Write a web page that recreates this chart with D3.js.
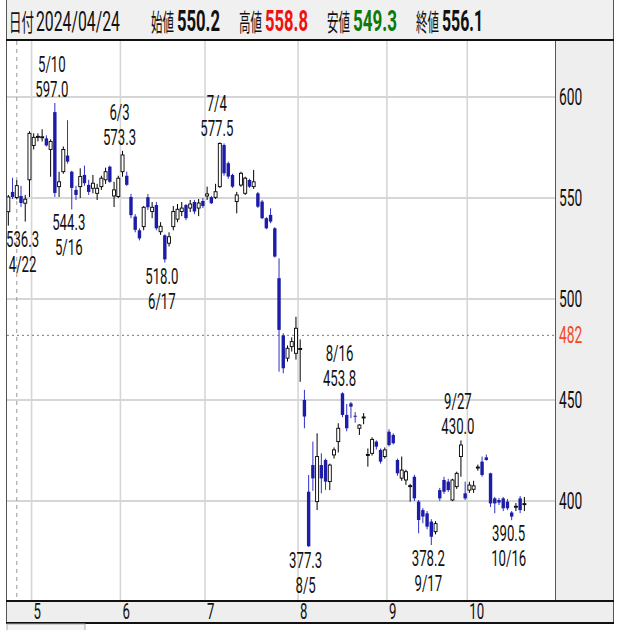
<!DOCTYPE html>
<html><head><meta charset="utf-8">
<script src="https://cdn.jsdelivr.net/npm/d3@7"></script>
<style>
html,body{margin:0;padding:0;background:#fff;}
svg{display:block;}
text{font-family:Roboto,"Liberation Sans",sans-serif;}
</style></head>
<body><svg id="c" width="630" height="630"></svg>
<script>
// ---------- data ----------
const year = "2024";
const dates = ["4/22","4/23","4/24","4/25","4/26","4/30",
"5/1","5/2","5/7","5/8","5/9","5/10","5/13","5/14","5/15","5/16","5/17","5/20","5/21","5/22","5/23","5/24","5/27","5/28","5/29","5/30","5/31",
"6/3","6/4","6/5","6/6","6/7","6/10","6/11","6/12","6/13","6/14","6/17","6/18","6/19","6/20","6/21","6/24","6/25","6/26","6/27","6/28",
"7/1","7/2","7/3","7/4","7/5","7/8","7/9","7/10","7/11","7/12","7/16","7/17","7/18","7/19","7/22","7/23","7/24","7/25","7/26","7/29","7/30","7/31",
"8/1","8/2","8/5","8/6","8/7","8/8","8/9","8/13","8/14","8/15","8/16","8/19","8/20","8/21","8/22","8/23","8/26","8/27","8/28","8/29","8/30",
"9/2","9/3","9/4","9/5","9/6","9/9","9/10","9/11","9/12","9/13","9/17","9/18","9/19","9/20","9/24","9/25","9/26","9/27","9/30",
"10/1","10/2","10/3","10/4","10/7","10/8","10/9","10/10","10/11","10/15","10/16","10/17","10/18","10/21"];
const open = [543.2,553,550.2,551,547.4,559,
576,580,580,579.5,574,592.5,555.6,563,571,563,554,555.6,561.4,556.5,554.8,552.3,555.6,559,565.5,551,550.7,
563,561,550.5,540.8,534,535.8,550.4,543.3,546.5,533.3,531.5,527.6,535.8,539.5,543.3,546.5,545,548,545,548.5,
551,550.4,550.3,555.6,576.2,567.2,561.4,548.2,556.4,552.3,558.9,555.6,552.3,548.2,540,541.6,535,510.3,482,470.7,476.4,473.1,
475,450,404.6,417.8,399.7,417.8,420.3,409.6,422.8,429.4,453.3,442.6,448.3,442.2,436,441.2,422.6,423.6,429.4,425.3,422,
434.3,432.7,420.3,411.3,410.4,407.2,412,399.7,395.5,393.9,389.8,384.8,405.4,410.4,409.6,400.5,407.1,422,403.8,
405.4,405.8,416.5,419.5,421.6,413.7,401.3,400.5,401.3,399.7,394.3,397,401.3,398.3];
const high = [551.5,560,558.8,556,551.5,583,
582,582,584,581,579,597.0,563,575.5,588.5,563.5,556,564.7,566,559,561.4,557,561,565,566,558,561,
573.3,563,552,542,535,546,552,548,548,538,532,533,546,547,548,547,549,549,549.5,550,
555.6,551,557,577.5,577,568,562,553,563,560.5,559.5,563.9,553,549,540.5,544.9,535.5,520.1,483,477,481,491.2,
480,455,412.9,429.4,433.5,423.6,421,418.5,426.5,438.5,453.8,448,449,444,438,443.5,426,431.5,430,426,426.5,
435.5,433.5,421,422,415.5,408.5,413,400.5,396.5,395,391,390,406.5,412,411,411,414.5,430.0,409.6,
409.5,410,418,422,423,414,402,401.5,402,401,395,399,402.5,402];
const low = [536.3,549.5,549.3,545.5,538.3,550.5,
574,578,578,575.5,560.5,550.5,550.5,562,567,544.3,549,550,556,551.5,552.3,549,554,557,557.5,545.5,550,
560.5,556,540,533,529,534,544,540,534,531.7,518.0,526,534,538,541,539,543,542,541,545,
549,547,549.5,555,561,559.5,555,542.4,555.5,551.5,555,554.5,545,539.5,534.5,537.5,520.5,464,463.2,469,474,470,
459,436,377.3,405,395.5,403.8,405.5,405.4,421,424,441.5,434.5,441,438.8,432.7,438,417,422.5,425.5,418.5,421,
427,428,412.5,410,408,399.7,400,384,389,386,378.2,383.5,400,403.5,404.5,400,406,412,400.5,
404,404,415,412,420,397,393.9,398,395,395.5,390.5,395,394,395];
const close = [550.5,550.5,556.1,547.5,549.4,582,
580,580.5,580.3,576,578,552.5,558,574,568,555,551.5,560.6,557.3,553,557.3,554.8,559.8,563,558,554,559.8,
571.3,556.5,541.5,534.2,530,545.4,545.4,545.4,535,536,519.6,530.8,543.3,544.4,545,540,547,543.3,547.5,546,
552,547.4,553.1,577,562.2,560.6,555.6,551.5,562.2,559.8,555.6,558,545.7,540,535,538.3,521,484.7,465.7,475.6,478.9,485.5,
475.5,441.8,377.6,411.2,422,411.2,409.6,417.8,425.3,436,442.6,436,446.7,441.8,437.6,441.6,423,430.5,426.9,419.5,425.3,
427.7,428.6,413.7,415.3,414.5,407.6,401.3,390.6,392.3,387.3,382.3,388.8,401.3,404.6,405.4,410.4,413.7,427.7,401.3,
407.9,407.5,416.8,412.9,420.3,398.8,398.8,399.2,396.4,396.4,392.3,397.4,395.5,398.7];
const yTicks = [400, 450, 500, 550, 600];
const monthStarts = ["5/1","6/3","7/1","8/1","9/2","10/1"];
const monthLabels = ["5","6","7","8","9","10"];
const highMarks = ["5/10","6/3","7/4","8/16","9/27"];
const lowMarks = ["4/22","5/16","6/17","8/5","9/17","10/16"];
const refPrice = 482;
const cursorDate = "4/24";
const headerNames = ["日付","始値","高値","安値","終値"];

// ---------- layout ----------
const L = 7, R = 555, T = 41, B = 601, PANEL_R = 613;
const svg = d3.select("#c");
const x = d3.scaleBand().domain(dates).range([6.2, 6.2 + dates.length * 4.23]).padding(0);
const y = d3.scaleLinear().domain([350.5, 627.7]).range([B, T]);
const cx = d => x(d) + x.bandwidth() / 2;

// backgrounds
svg.append("rect").attr("x", 0).attr("y", 0).attr("width", 630).attr("height", 630).attr("fill", "#fff");
svg.append("rect").attr("x", 6).attr("y", 0).attr("width", PANEL_R - 6).attr("height", T).attr("fill", "#f0f0f0");
svg.append("rect").attr("x", R).attr("y", T).attr("width", PANEL_R - R).attr("height", B - T).attr("fill", "#eeeeee");
svg.append("rect").attr("x", L).attr("y", B).attr("width", PANEL_R - L).attr("height", 22).attr("fill", "#eeeeee");

// grid
const grid = svg.append("g");
grid.selectAll("line.h").data(yTicks).join("line")
  .attr("x1", L).attr("x2", R).attr("y1", d => y(d)).attr("y2", d => y(d))
  .attr("stroke", "#d6d6d6").attr("stroke-width", 2);
grid.selectAll("line.v").data(monthStarts).join("line")
  .attr("x1", d => x(d)).attr("x2", d => x(d)).attr("y1", T).attr("y2", B)
  .attr("stroke", "#d6d6d6").attr("stroke-width", 1.6);
grid.append("line").attr("x1", L).attr("x2", R).attr("y1", y(refPrice)).attr("y2", y(refPrice))
  .attr("stroke", "#777").attr("stroke-width", 1).attr("stroke-dasharray", "2,3");
grid.append("line").attr("x1", cx(cursorDate)).attr("x2", cx(cursorDate)).attr("y1", T).attr("y2", B)
  .attr("stroke", "#999").attr("stroke-width", 1).attr("stroke-dasharray", "4,4");

// candles
const idx = d3.range(dates.length);
const UP = "#000", DOWN = "#1c1ca8", DOWNW = "#3030c8";
const cg = svg.append("g");
cg.selectAll("line.w").data(idx).join("line")
  .attr("x1", i => cx(dates[i])).attr("x2", i => cx(dates[i]))
  .attr("y1", i => y(high[i])).attr("y2", i => y(low[i]))
  .attr("stroke", i => close[i] >= open[i] ? UP : DOWNW).attr("stroke-width", 1);
cg.selectAll("rect.b").data(idx).join("rect")
  .attr("x", i => cx(dates[i]) - (close[i] >= open[i] ? 1.5 : 1.7))
  .attr("width", i => close[i] >= open[i] ? 3 : 3.4)
  .attr("y", i => y(Math.max(open[i], close[i])))
  .attr("height", i => Math.max(1, Math.abs(y(open[i]) - y(close[i]))))
  .attr("fill", i => close[i] >= open[i] ? "#fff" : DOWN)
  .attr("stroke", i => close[i] >= open[i] ? UP : "none")
  .attr("stroke-width", 0.9);

// text helper
function txt(g, px, py, s, o) {
  const t = g.append("text")
    .attr("transform", `translate(${px},${py}) scale(${o.sx || 0.6},1)`)
    .attr("text-anchor", o.anchor || "start")
    .attr("fill", o.color || "#111")
    .style("font-size", (o.size || 23) + "px")
    .style("font-weight", o.weight || "normal")
    .text(s);
  if (o.font) t.style("font-family", o.font);
  return t;
}

// annotations
const ag = svg.append("g");
const AS = 22, ASX = 0.6;
function annotate(d, val, isHigh) {
  let px = cx(d) - 3;
  const vStr = val.toFixed(1);
  const t1 = txt(ag, px, 0, isHigh ? d : vStr, {anchor: "middle", sx: ASX, size: AS});
  const t2 = txt(ag, px, 0, isHigh ? vStr : d, {anchor: "middle", sx: ASX, size: AS});
  const w = Math.max(t1.node().getComputedTextLength(), t2.node().getComputedTextLength()) * ASX;
  if (px - w / 2 < L - 1) px = L - 1 + w / 2;
  const yy = y(val);
  const b1 = isHigh ? yy - 31 : yy + 21;
  const b2 = isHigh ? yy - 6 : yy + 46;
  t1.attr("transform", `translate(${px},${b1}) scale(${ASX},1)`);
  t2.attr("transform", `translate(${px},${b2}) scale(${ASX},1)`);
}
highMarks.forEach(d => annotate(d, high[dates.indexOf(d)], true));
lowMarks.forEach(d => annotate(d, low[dates.indexOf(d)], false));

// right axis labels
const yg = svg.append("g");
yTicks.forEach(v => txt(yg, 559, y(v) + 8, String(v), {sx: 0.6, size: 23}));
txt(yg, 559, y(refPrice) + 8, String(refPrice), {sx: 0.6, size: 23, color: "#f04a1e"});

// month labels
const mg = svg.append("g");
monthStarts.forEach((d, k) => txt(mg, x(d) + 2, 619, monthLabels[k], {sx: 0.6, size: 22}));

// borders
const bg = svg.append("g").attr("fill", "none");
bg.append("line").attr("x1", 6.5).attr("x2", 6.5).attr("y1", 0).attr("y2", 623).attr("stroke", "#555");
bg.append("line").attr("x1", R + 0.5).attr("x2", R + 0.5).attr("y1", T).attr("y2", B).attr("stroke", "#555");
bg.append("line").attr("x1", PANEL_R + 0.5).attr("x2", PANEL_R + 0.5).attr("y1", 0).attr("y2", 623).attr("stroke", "#555");
bg.append("line").attr("x1", 6).attr("x2", PANEL_R + 1).attr("y1", 40).attr("y2", 40).attr("stroke", "#111").attr("stroke-width", 2);
bg.append("line").attr("x1", 6).attr("x2", PANEL_R + 1).attr("y1", B).attr("y2", B).attr("stroke", "#111").attr("stroke-width", 2);
bg.append("line").attr("x1", 6).attr("x2", PANEL_R + 1).attr("y1", 623).attr("y2", 623).attr("stroke", "#111").attr("stroke-width", 2);
bg.append("rect").attr("x", 7).attr("y", 624).attr("width", 78).attr("height", 8).attr("fill", "#f4f4f4").attr("stroke", "#aaa");

// header (each piece scaled horizontally to its measured width)
const hg = svg.append("g");
const ci = dates.indexOf(cursorDate);
const [mm, dd] = cursorDate.split("/");
const dateStr = `${year}/${mm.padStart(2, "0")}/${dd.padStart(2, "0")}`;
function htext(px, s, w, o) {
  const t = hg.append("text")
    .attr("fill", o.color || "#111")
    .style("font-size", o.size + "px").style("font-weight", o.weight || "normal")
    .style("font-family", o.font || "Roboto, sans-serif")
    .text(s);
  const nat = t.node().getComputedTextLength();
  t.attr("transform", `translate(${px},31) scale(${w / nat},1)`);
}
const CJK = '"Noto Sans CJK JP", sans-serif';
htext(9, headerNames[0], 25, {size: 24, font: CJK});
htext(36, dateStr, 84, {size: 28});
const vals = [open[ci], high[ci], low[ci], close[ci]];
const cols = ["#111", "#ee1111", "#0b7a0b", "#111"];
const nameX = [151, 239, 327, 416], valX = [177, 265, 353, 442], valW = [43, 43, 44, 41];
vals.forEach((v, k) => {
  htext(nameX[k], headerNames[k + 1], 23, {size: 24, font: CJK});
  htext(valX[k], v.toFixed(1), valW[k], {size: 30, weight: "bold", color: cols[k]});
});
</script></body></html>
